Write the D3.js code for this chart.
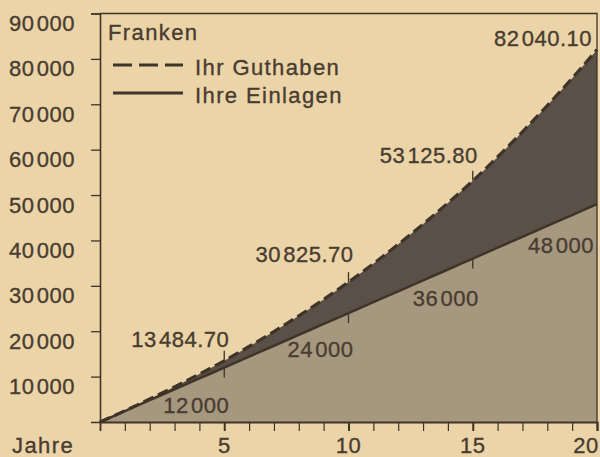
<!DOCTYPE html>
<html>
<head>
<meta charset="utf-8">
<script src="https://cdn.jsdelivr.net/npm/d3@7"></script>
<style>
  html, body { margin: 0; padding: 0; background: #ebd4a7; }
  svg { display: block; }
  text { font-family: "Liberation Sans", Arial, sans-serif; fill: #483c31; font-size: 22px;
         stroke: #483c31; stroke-width: 0.35px; }
  .num { letter-spacing: 0.5px; }
  .word { letter-spacing: 1.4px; }
</style>
</head>
<body>
<div id="chart"></div>
<script>
// Jahre 0..20
var years = d3.range(0, 21);
// Ihr Guthaben (Franken)
var guthaben = [0, 2480, 5060, 7750, 10560, 13484.70, 16635, 19935, 23385, 27005,
                30825.70, 34876, 39136, 43596, 48256, 53125.80, 58396, 63936, 69716, 75746, 82040.10];
// Ihre Einlagen (Franken)
var einlagen = [0, 2400, 4800, 7200, 9600, 12000, 14400, 16800, 19200, 21600,
                24000, 26400, 28800, 31200, 33600, 36000, 38400, 40800, 43200, 45600, 48000];
var yTicks = [10000, 20000, 30000, 40000, 50000, 60000, 70000, 80000, 90000];
var xLabels = [5, 10, 15, 20];
var labelYears = [5, 10, 15, 20];

var W = 600, H = 457;
var ink = "#3f342a";

var svg = d3.select("#chart").append("svg").attr("width", W).attr("height", H);
svg.append("rect").attr("width", W).attr("height", H).attr("fill", "#ebd4a7");

var x = d3.scaleLinear().domain([0, 20]).range([100, 597]),
    y = d3.scaleLinear().domain([0, 90000]).range([422, 13.5]);

var loc = d3.formatLocale({decimal: ".", thousands: "\u200A", grouping: [3], currency: ["", ""]});
var fmt2 = loc.format(",.2f"), fmt0 = loc.format(",.0f");

// areas
var areaLow = d3.area().x(function (d, i) { return x(years[i]); })
    .y0(y(0)).y1(function (d) { return y(d); }).curve(d3.curveMonotoneX);
svg.append("path").datum(einlagen).attr("d", areaLow).attr("fill", "#a6987f");

var areaMid = d3.area().x(function (d, i) { return x(years[i]); })
    .y0(function (d, i) { return y(einlagen[i]); })
    .y1(function (d) { return y(d); }).curve(d3.curveMonotoneX);
svg.append("path").datum(guthaben).attr("d", areaMid).attr("fill", "#5b5047");

// small markers every 5 years, above Guthaben and below Einlagen
var marks = svg.append("g").attr("stroke", ink).attr("stroke-width", 1.3);
marks.selectAll(".mg").data([5, 10, 15]).enter().append("line")
    .attr("x1", function (d) { return x(d); }).attr("x2", function (d) { return x(d); })
    .attr("y1", function (d) { return y(guthaben[d]) - 10; })
    .attr("y2", function (d) { return y(guthaben[d]); });
marks.selectAll(".me").data([5, 10, 15]).enter().append("line")
    .attr("x1", function (d) { return x(d); }).attr("x2", function (d) { return x(d); })
    .attr("y1", function (d) { return y(einlagen[d]); })
    .attr("y2", function (d) { return y(einlagen[d]) + 10; });

var line = d3.line().x(function (d, i) { return x(years[i]); })
    .y(function (d) { return y(d); }).curve(d3.curveMonotoneX);
svg.append("path").datum(einlagen).attr("d", line)
    .attr("fill", "none").attr("stroke", ink).attr("stroke-width", 2.5);
svg.append("path").datum(guthaben).attr("d", line)
    .attr("fill", "none").attr("stroke", ink).attr("stroke-width", 3.2)
    .attr("stroke-dasharray", "11,5");

// frame
svg.append("path")
    .attr("d", "M" + x(0) + "," + y(90000) + "H" + x(20) + "V" + y(0))
    .attr("fill", "none").attr("stroke", ink).attr("stroke-width", 1.3);

// y axis
var yAxis = svg.append("g").attr("transform", "translate(" + x(0) + ",0)")
    .call(d3.axisLeft(y).tickValues(yTicks).tickSize(9).tickFormat(""));
yAxis.select(".domain").attr("stroke", ink).attr("stroke-width", 1.6);
yAxis.selectAll(".tick line").attr("stroke", ink).attr("stroke-width", 1.3);
svg.selectAll(".ylab").data(yTicks).enter().append("text")
    .attr("class", "num")
    .attr("x", 75).attr("y", function (d) { return y(d) + 17.5; })
    .attr("text-anchor", "end")
    .text(function (d) { return fmt0(d); });

// x axis
var xAxis = svg.append("g").attr("transform", "translate(0," + y(0) + ")")
    .call(d3.axisBottom(x).tickValues(years.slice(1)).tickSize(9).tickFormat(""));
xAxis.select(".domain").attr("stroke", ink).attr("stroke-width", 1.8);
xAxis.selectAll(".tick line").attr("stroke", ink)
    .attr("stroke-width", function (d) { return d % 5 === 0 ? 2 : 1.2; });
svg.selectAll(".xlab").data(xLabels).enter().append("text")
    .attr("class", "num")
    .attr("x", function (d) { return x(d) + (d === 20 ? -11 : 0); })
    .attr("y", 453).attr("text-anchor", "middle")
    .text(function (d) { return d; });
svg.append("text").attr("class", "word").attr("x", 12).attr("y", 453).text("Jahre");

// value labels
var gOff = {5: [5, -14], 10: [5, -20], 15: [5, -18], 20: [-5, -4]};
var eOff = {5: [5, 45], 10: [5, 44], 15: [6, 47], 20: [-3, 49]};
svg.selectAll(".glab").data(labelYears).enter().append("text")
    .attr("class", "num")
    .attr("x", function (d) { return x(d) + gOff[d][0]; })
    .attr("y", function (d) { return y(guthaben[d]) + gOff[d][1]; })
    .attr("text-anchor", "end")
    .text(function (d) { return fmt2(guthaben[d]); });
svg.selectAll(".elab").data(labelYears).enter().append("text")
    .attr("class", "num")
    .attr("x", function (d) { return x(d) + eOff[d][0]; })
    .attr("y", function (d) { return y(einlagen[d]) + eOff[d][1]; })
    .attr("text-anchor", "end")
    .text(function (d) { return fmt0(einlagen[d]); });

// legend
var leg = svg.append("g");
leg.append("text").attr("class", "word").attr("x", 108).attr("y", 40).text("Franken");
leg.append("line").attr("x1", 113).attr("x2", 183).attr("y1", 65).attr("y2", 65)
    .attr("stroke", ink).attr("stroke-width", 3).attr("stroke-dasharray", "19,7");
leg.append("text").attr("class", "word").attr("x", 195).attr("y", 75).text("Ihr Guthaben");
leg.append("line").attr("x1", 113).attr("x2", 183).attr("y1", 93).attr("y2", 93)
    .attr("stroke", ink).attr("stroke-width", 3);
leg.append("text").attr("class", "word").attr("x", 195).attr("y", 103).text("Ihre Einlagen");
</script>
</body>
</html>
